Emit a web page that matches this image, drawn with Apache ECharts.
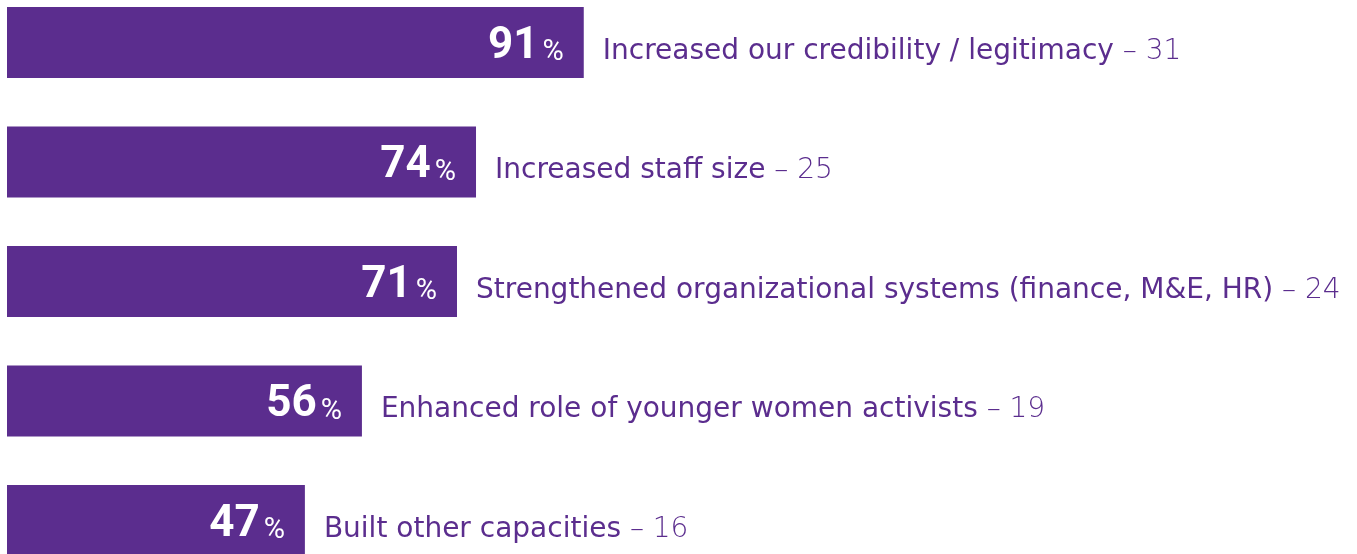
<!DOCTYPE html>
<html>
<head>
<meta charset="utf-8">
<script src="https://cdn.jsdelivr.net/npm/echarts@6/dist/echarts.min.js"></script>
<style>
  html, body { margin: 0; padding: 0; background: #fff; }
  #chart { width: 1357px; height: 554px; }
</style>
</head>
<body>
<div id="chart"></div>
<script>
// data
const categories = [
  "Increased our credibility / legitimacy",
  "Increased staff size",
  "Strengthened organizational systems (finance, M&E, HR)",
  "Enhanced role of younger women activists",
  "Built other capacities"
];
const percents = [91, 74, 71, 56, 47];
const counts = [31, 25, 24, 19, 16];

const purple = "#5b2d8e";
const chart = echarts.init(document.getElementById("chart"));

const option = {
  animation: false,
  grid: { left: 7, right: 0, top: 42.5, bottom: 33.5 },
  xAxis: { type: "value", min: 0, max: 213, show: false },
  yAxis: {
    type: "category",
    data: categories,
    inverse: true,
    boundaryGap: false,
    show: false
  },
  series: [
    {
      type: "bar",
      data: percents,
      barWidth: 71,
      clip: false,
      itemStyle: { color: purple },
      label: {
        show: true,
        position: "insideRight",
        distance: 20,
        offset: [0, 4],
        formatter: (p) => "{n|" + p.value + "}{p|%}",
        rich: {
          n: { fontFamily: "Roboto", fontWeight: "bold", fontSize: 44, color: "#fff", verticalAlign: "bottom", lineHeight: 44 },
          p: { fontFamily: "Roboto", fontSize: 29, color: "#fff", verticalAlign: "bottom", lineHeight: 36, padding: [0, 0, 1, 4] }
        }
      }
    },
    {
      type: "bar",
      data: percents,
      barWidth: 71,
      barGap: "-100%",
      clip: false,
      itemStyle: { color: "transparent" },
      label: {
        show: true,
        position: "right",
        distance: 19,
        offset: [0, 9],
        formatter: (p) => "{t|" + p.name + "}{c| – " + counts[p.dataIndex] + "}",
        rich: {
          t: { fontFamily: "DejaVu Sans", fontSize: 28, color: purple },
          c: { fontFamily: "DejaVu Sans", fontWeight: 300, fontSize: 28, color: purple }
        }
      }
    }
  ]
};

chart.setOption(option);
window.addEventListener("resize", () => chart.resize());
</script>
</body>
</html>
